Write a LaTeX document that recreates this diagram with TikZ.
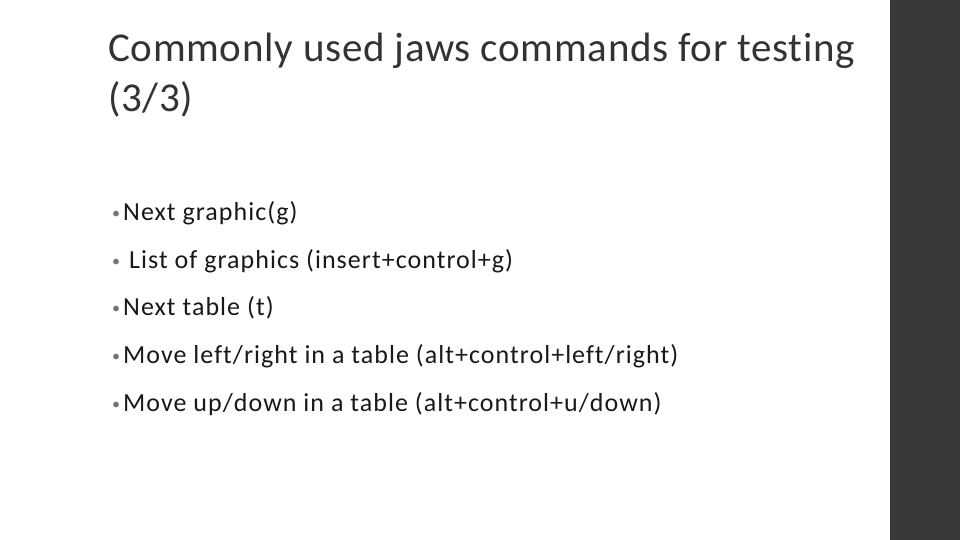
\documentclass[tikz,border=0pt]{standalone}
\usepackage{fontspec}
\setmainfont{Carlito}[Ligatures=NoCommon]
\newfontfamily\titlefont{Carlito}[LetterSpace=1.7,Ligatures=NoCommon]
\newfontfamily\itemfont{Carlito}[LetterSpace=4,Ligatures=NoCommon]
\begin{document}
\begin{tikzpicture}[x=1pt,y=-1pt,
  title/.style={anchor=base west,inner sep=0pt,font=\titlefont\fontsize{41}{44}\selectfont,text=black!80},
  item/.style={anchor=base west,inner sep=0pt,font=\itemfont\fontsize{26}{28}\selectfont,text=black!90},
  bul/.style={anchor=base west,inner sep=0pt,font=\fontsize{16}{18}\selectfont,text=black!55}]
\useasboundingbox (0,0) rectangle (960,540);
\fill[white] (0,0) rectangle (960,540);
\fill[black!78] (890,0) rectangle (960,540);
\node[title] (t1) at (108,62) {Commonly used jaws commands for testing};
\node[title] (t2) at (108,112) {(3/3)};
\foreach \y/\x/\t [count=\i] in {220/123/{Next graphic(g)},268/129/{List of graphics (insert+control+g)},315/123/{Next table (t)},363/123/{Move left/right in a table (alt+control+left/right)},411/123/{Move up/down in a table (alt+control+u/down)}}{
  \node[bul] (b\i) at (112,\y-2) {•};
  \node[item] (i\i) at (\x,\y) {\t};
}
\end{tikzpicture}
\end{document}
